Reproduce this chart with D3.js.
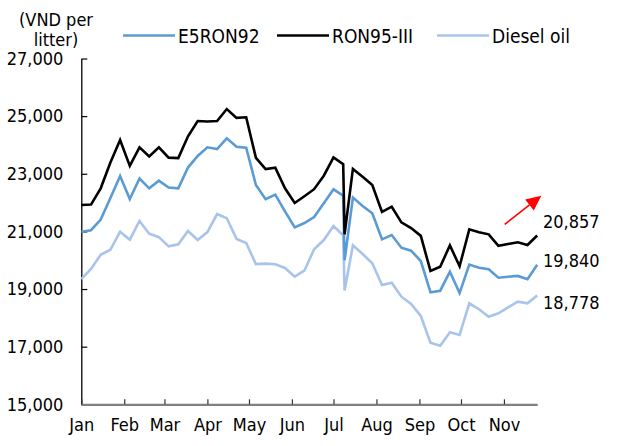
<!DOCTYPE html>
<html>
<head>
<meta charset="utf-8">
<script src="https://cdn.jsdelivr.net/npm/d3@7"></script>
<style>
  html, body { margin: 0; padding: 0; background: #fff; }
  svg { display: block; }
  text { font-family: "DejaVu Sans Condensed", "DejaVu Sans", sans-serif; fill: #000; }
</style>
</head>
<body>
<svg id="chart" width="622" height="446"></svg>
<script>
// ---------- data ----------
const dates = [
  "2024-01-01","2024-01-08","2024-01-15","2024-01-22","2024-01-29",
  "2024-02-05","2024-02-12","2024-02-19","2024-02-26",
  "2024-03-04","2024-03-11","2024-03-18","2024-03-25",
  "2024-04-01","2024-04-08","2024-04-15","2024-04-22","2024-04-29",
  "2024-05-06","2024-05-13","2024-05-20","2024-05-27",
  "2024-06-03","2024-06-10","2024-06-17","2024-06-24",
  "2024-07-01","2024-07-08","2024-07-09","2024-07-15","2024-07-22","2024-07-29",
  "2024-08-05","2024-08-12","2024-08-19","2024-08-26",
  "2024-09-02","2024-09-09","2024-09-16","2024-09-23","2024-09-30",
  "2024-10-07","2024-10-14","2024-10-21","2024-10-28",
  "2024-11-04","2024-11-11","2024-11-18","2024-11-25"
];
const e5ron92 = [
  20990,21040,21410,22160,22922,
  22125,22835,22495,22760,
  22520,22495,23215,23616,
  23918,23855,24230,23940,23905,
  22610,22120,22275,21695,
  21140,21290,21500,21975,
  22460,22240,20000,22175,21881,21628,
  20725,20875,20434,20330,
  19973,18886,18942,19601,18860,
  19850,19740,19685,19393,
  19428,19455,19338,19840
];
const ron95iii = [
  21915,21930,22495,23390,24170,
  23275,23918,23600,23920,
  23560,23545,24300,24831,
  24815,24831,25247,24940,24960,
  23550,23160,23210,22495,
  21985,22220,22465,22932,
  23565,23330,20900,23170,22898,22610,
  21675,21857,21315,21115,
  20845,19626,19775,20515,19790,
  21073,20968,20899,20503,
  20562,20621,20528,20857
];
const diesel = [
  19340,19700,20190,20365,20990,
  20712,21361,20920,20800,
  20480,20552,21013,20700,
  20975,21603,21454,20740,20600,
  19863,19880,19858,19730,
  19428,19636,20380,20700,
  21187,20860,18950,20515,20215,19893,
  19140,19220,18734,18480,
  18064,17138,17033,17498,17405,
  18505,18300,18040,18158,
  18360,18560,18505,18778
];
const seriesNames = ["E5RON92", "RON95-III", "Diesel oil"];
const seriesColors = ["#5B9BD5", "#000000", "#A9C4EB"];
const endLabels = ["19,840", "20,857", "18,778"];
const yTickValues = [15000, 17000, 19000, 21000, 23000, 25000, 27000];
const monthLabels = ["Jan","Feb","Mar","Apr","May","Jun","Jul","Aug","Sep","Oct","Nov"];
const unitLabel = ["(VND per", "litter)"];

// ---------- scales ----------
const parse = d3.timeParse("%Y-%m-%d");
const xDates = dates.map(parse);
const svg = d3.select("#chart");
const x = d3.scaleTime()
  .domain([parse("2024-01-01"), parse("2024-11-25")])
  .range([81.3, 537.2]);
const y = d3.scaleLinear().domain([15000, 27000]).range([404.3, 58.5]);

const fmt = d3.format(",");

// ---------- axes ----------
const yAxis = d3.axisLeft(y).tickValues(yTickValues).tickFormat(fmt).tickSizeInner(-6).tickSizeOuter(0).tickPadding(18);
const gy = svg.append("g").attr("transform", "translate(81.3,0)").call(yAxis);
gy.select(".domain").attr("stroke", "#000").attr("stroke-width", 1.3);
gy.selectAll(".tick line").attr("stroke", "#000").attr("stroke-width", 1.2);
gy.selectAll(".tick text").attr("font-size", 18).attr("font-family", "DejaVu Sans Condensed, DejaVu Sans, sans-serif").attr("fill", "#000");

const monthTicks = d3.timeMonth.range(parse("2024-01-01"), parse("2024-11-26"));
const xAxis = d3.axisBottom(x).tickValues(monthTicks)
  .tickFormat((d, i) => monthLabels[i]).tickSizeInner(-5).tickSizeOuter(0).tickPadding(14);
const gx = svg.append("g").attr("transform", "translate(0,404.3)").call(xAxis);
gx.select(".domain").attr("stroke", "#808080").attr("stroke-width", 2.2);
gx.selectAll(".tick line").attr("stroke", "#333").attr("stroke-width", 1.2);
gx.selectAll(".tick text").attr("font-size", 18).attr("font-family", "DejaVu Sans Condensed, DejaVu Sans, sans-serif").attr("fill", "#000");

// ---------- lines ----------
const allSeries = [e5ron92, ron95iii, diesel];
const drawOrder = [2, 0, 1];
const line = d3.line().x((d, i) => x(xDates[i])).y(d => y(d));
drawOrder.forEach(si => {
  svg.append("path")
    .datum(allSeries[si])
    .attr("d", line)
    .attr("fill", "none")
    .attr("stroke", seriesColors[si])
    .attr("stroke-width", 2.6)
    .attr("stroke-linejoin", "miter")
    .attr("stroke-miterlimit", 3);
});

// ---------- legend ----------
const legendX = [123, 277, 437];
seriesNames.forEach((name, i) => {
  const g = svg.append("g").attr("transform", `translate(${legendX[i]},35.5)`);
  g.append("line").attr("x1", 0).attr("x2", 52).attr("y1", 0).attr("y2", 0)
    .attr("stroke", seriesColors[i]).attr("stroke-width", 2.6);
  g.append("text").attr("x", 55).attr("y", 7).attr("font-size", 19).text(name);
});

// unit label
svg.append("text").attr("x", 56).attr("y", 26).attr("text-anchor", "middle").attr("font-size", 18).text(unitLabel[0]);
svg.append("text").attr("x", 56).attr("y", 46).attr("text-anchor", "middle").attr("font-size", 18).text(unitLabel[1]);

// ---------- end labels ----------
const lastIdx = dates.length - 1;
const labelOffsets = [-4, -14, 7];
allSeries.forEach((s, i) => {
  svg.append("text")
    .attr("x", 543)
    .attr("y", y(s[lastIdx]) + labelOffsets[i])
    .attr("dy", "0.36em")
    .attr("font-size", 18)
    .text(endLabels[i]);
});

// ---------- red arrow ----------
const ax0 = 504.7, ay0 = 224.3, ax1 = 541.3, ay1 = 195.7;
const ang = Math.atan2(ay1 - ay0, ax1 - ax0);
const headLen = 15, headW = 7;
const bx = ax1 - headLen * Math.cos(ang), by = ay1 - headLen * Math.sin(ang);
svg.append("line").attr("x1", ax0).attr("y1", ay0).attr("x2", bx).attr("y2", by)
  .attr("stroke", "#FF0000").attr("stroke-width", 1.6);
svg.append("path")
  .attr("d", `M${ax1},${ay1} L${bx + headW * Math.sin(ang)},${by - headW * Math.cos(ang)} L${bx - headW * Math.sin(ang)},${by + headW * Math.cos(ang)} Z`)
  .attr("fill", "#FF0000");
</script>
</body>
</html>
